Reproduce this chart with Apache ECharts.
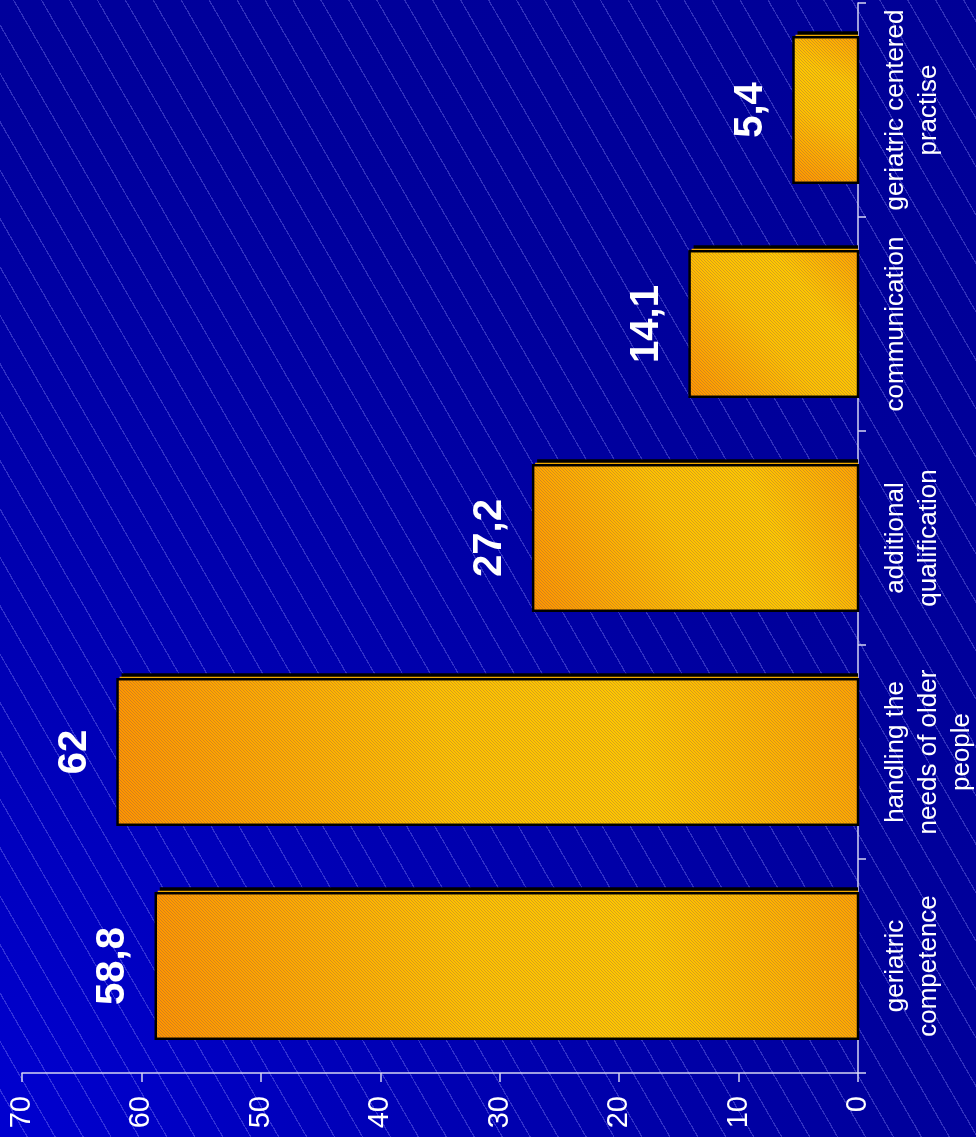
<!DOCTYPE html>
<html>
<head>
<meta charset="utf-8">
<script src="https://cdn.jsdelivr.net/npm/echarts@6/dist/echarts.min.js"></script>
<style>
  html, body { margin: 0; padding: 0; }
  #wrap {
    width: 976px; height: 1137px; position: relative;
    background:
      repeating-linear-gradient(60deg, rgba(0,0,0,0) 0px, rgba(0,0,0,0) 23px, rgba(150,150,255,0.32) 23px, rgba(150,150,255,0.32) 24.2px),
      radial-gradient(ellipse at 0% 100%, #0000D0 0%, #0000B4 30%, #00009C 65%, #000096 100%);
  }
  #chart { width: 976px; height: 1137px; }
</style>
</head>
<body>
<div id="wrap"><div id="chart"></div></div>
<script>
const categories = [
  "geriatric\ncompetence",
  "handling the\nneeds of older\npeople",
  "additional\nqualification",
  "communication",
  "geriatric centered\npractise"
];
const values = [58.8, 62, 27.2, 14.1, 5.4];
const valueLabels = ["58,8", "62", "27,2", "14,1", "5,4"];
const axisMin = 0, axisMax = 70, axisInterval = 10;

// small hatch texture for the bars
const tex = document.createElement('canvas');
tex.width = 6; tex.height = 6;
(function () {
  const g = tex.getContext('2d');
  g.fillStyle = 'rgba(120,80,90,0.32)';
  for (let i = 0; i < 6; i++) { g.fillRect(i, i, 1, 1); g.fillRect((i + 3) % 6, i, 1, 1); }
})();

const chart = echarts.init(document.getElementById('chart'), null, { renderer: 'canvas' });
const axisColor = '#d4d4f2';

chart.setOption({
  backgroundColor: 'transparent',
  animation: false,
  grid: { left: 22, right: 118, top: 3, bottom: 64, containLabel: false, outerBoundsMode: 'none' },
  xAxis: {
    type: 'value', inverse: true, min: axisMin, max: axisMax, interval: axisInterval,
    position: 'bottom',
    axisLine: { show: true, lineStyle: { color: axisColor, width: 1.5 } },
    axisTick: { show: true, length: 9, lineStyle: { color: axisColor, width: 1.5 } },
    splitLine: { show: false },
    axisLabel: { rotate: 90, margin: 23, color: '#ffffff', fontSize: 29, fontFamily: 'Arial, Liberation Sans, sans-serif' }
  },
  yAxis: {
    type: 'category', data: categories, position: 'right',
    axisLine: { show: true, lineStyle: { color: axisColor, width: 1.5 } },
    axisTick: { show: true, length: 8, inside: false, lineStyle: { color: axisColor, width: 1.5 } },
    axisLabel: { interval: 0, hideOverlap: false, rotate: 90, margin: 21, color: '#ffffff', fontSize: 26, lineHeight: 33, fontFamily: 'Arial, Liberation Sans, sans-serif', align: 'center' }
  },
  series: [{
    type: 'custom',
    data: values.map((v, i) => [v, i]),
    encode: { x: 0, y: 1 },
    clip: false,
    renderItem: function (params, api) {
      const v = api.value(0), c = api.value(1);
      const end = api.coord([v, c]);
      const start = api.coord([0, c]);
      const bw = api.size([0, 1])[1] * 0.68;
      const top = end[1] - bw / 2;
      const x0 = end[0], x1 = start[0];
      const w = x1 - x0;
      const grad = new echarts.graphic.LinearGradient(0, 1, 1, 0, [
        { offset: 0, color: '#FF9400' },
        { offset: 0.45, color: '#FFC200' },
        { offset: 0.7, color: '#FFC800' },
        { offset: 1, color: '#FFA400' }
      ]);
      return {
        type: 'group',
        children: [
          { type: 'rect', shape: { x: x0 + 4, y: top - 6, width: w - 4, height: bw }, style: { fill: '#000000' } },
          { type: 'rect', shape: { x: x0 + 2, y: top - 2.5, width: w - 2, height: 1.5 }, style: { fill: '#F0A800' } },
          { type: 'rect', shape: { x: x0, y: top, width: w, height: bw }, style: { fill: grad, stroke: '#000000', lineWidth: 2.5 } },
          { type: 'rect', shape: { x: x0 + 1.5, y: top + 1.5, width: w - 3, height: bw - 3 }, style: { fill: { image: tex, repeat: 'repeat' } }, silent: true },
          { type: 'text', x: x0 - 43, y: end[1], rotation: Math.PI / 2,
            style: { text: valueLabels[params.dataIndex], fill: '#ffffff', font: 'bold 40px Arial, "Liberation Sans", sans-serif', align: 'center', verticalAlign: 'middle' } }
        ]
      };
    }
  }]
});
</script>
</body>
</html>
